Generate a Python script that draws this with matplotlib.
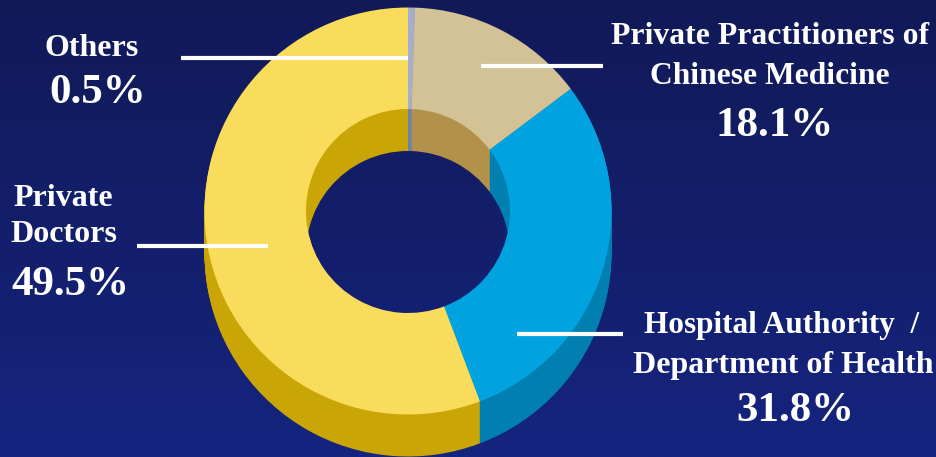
import numpy as np
import matplotlib
matplotlib.use('Agg')
import matplotlib.pyplot as plt

# slice shares as drawn in the picture (they differ from the printed labels)
categories = ['Others', 'Private Practitioners of Chinese Medicine',
              'Hospital Authority / Department of Health', 'Private Doctors']
drawn_shares = [0.55, 14.2, 29.5, 55.75]
printed_shares = ['0.5%', '18.1%', '31.8%', '49.5%']

top_colors = ['#a5aecb', '#d3c295', '#00a3e0', '#f9dc5c']
side_colors = ['#6f7fae', '#b2914a', '#007fb0', '#c9a506']

W, H = 936, 457
cx, cy = 408, H - 211
outer_r = 203.5
ring_width = 101.5
depth = 42

plt.rcParams['font.family'] = ['Liberation Serif', 'DejaVu Serif']
plt.rcParams['font.weight'] = 'bold'

fig = plt.figure(figsize=(W / 100, H / 100), dpi=100)
ax = fig.add_axes([0, 0, 1, 1])

# background gradient, dark at top
grad = np.linspace(0, 1, 256).reshape(-1, 1)
bg = matplotlib.colors.LinearSegmentedColormap.from_list('bg', ['#111a57', '#15247f'])
ax.imshow(grad, cmap=bg, extent=(0, W, 0, H), aspect='auto', zorder=0)

# extrusion is just the same ring stacked downwards
for step in range(depth, 0, -1):
    ax.pie(drawn_shares, colors=side_colors, startangle=90, counterclock=False,
           radius=outer_r, center=(cx, cy - step), normalize=True,
           wedgeprops={'width': ring_width, 'linewidth': 0, 'zorder': 2})
ax.pie(drawn_shares, colors=top_colors, startangle=90, counterclock=False,
       radius=outer_r, center=(cx, cy), normalize=True,
       wedgeprops={'width': ring_width, 'linewidth': 0, 'zorder': 3})

ax.set_xlim(0, W)
ax.set_ylim(0, H)
ax.set_aspect('auto')
ax.axis('off')


def label(x, y, s, size):
    # +3 because va=center sits a bit high for this font
    ax.text(x, H - y - 3, s, color='white', fontsize=size, ha='center', va='center', zorder=6)


def leader(x0, x1, y, lw=3):
    ax.plot([x0, x1], [H - y, H - y], color='white', lw=lw, solid_capstyle='butt', zorder=5)


leader(181, 408, 58)
leader(481, 603, 66)
leader(137, 268, 246)
leader(517, 623, 334)

label(92, 45, 'Others', 23)
label(98, 90, printed_shares[0], 31)
label(770, 33, 'Private Practitioners of', 22.9)
label(770, 73, 'Chinese Medicine', 22.7)
label(775, 123, printed_shares[1], 31)
label(782, 323, 'Hospital Authority  /', 22.5)
label(783, 362, 'Department of Health', 23)
label(795, 408, printed_shares[2], 31)
label(63, 195, 'Private', 23)
label(64, 232, 'Doctors', 23)
label(70, 282, printed_shares[3], 31)

fig.savefig('out.png', dpi=100)
